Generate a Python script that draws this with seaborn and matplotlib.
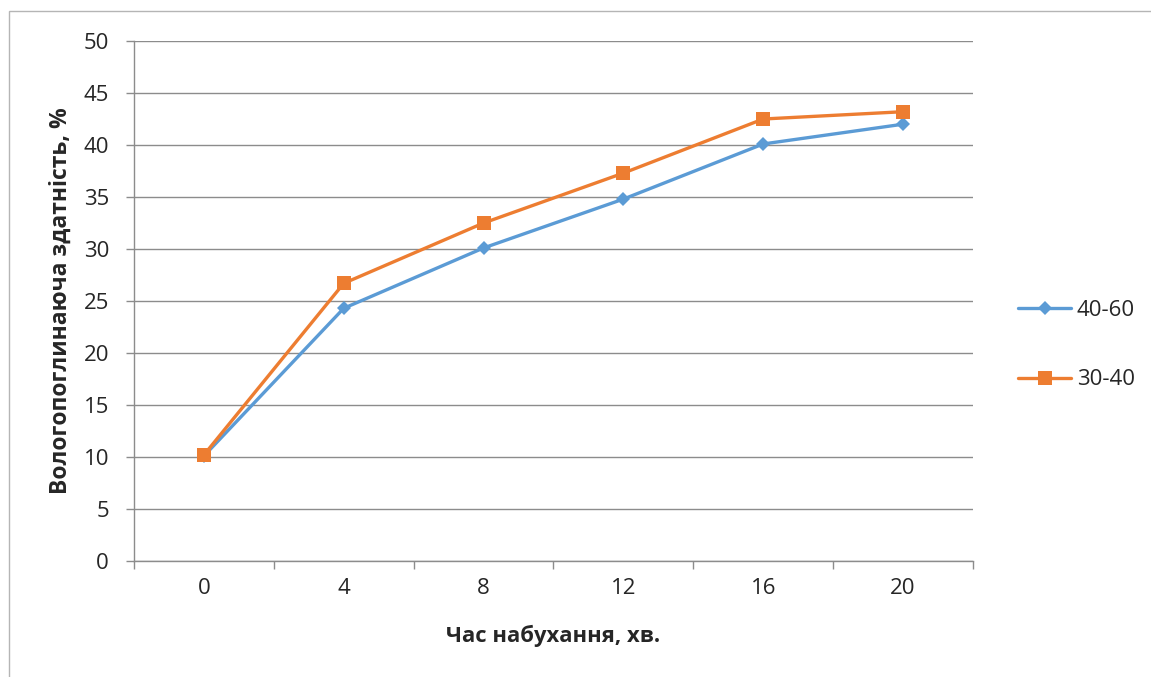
import numpy as np
import pandas as pd
import matplotlib
matplotlib.use("Agg")
import matplotlib.pyplot as plt
from matplotlib.patches import Rectangle
import seaborn as sns

# Swelling time (minutes) and moisture absorption (%) for two fractions
time_labels = ["0", "4", "8", "12", "16", "20"]
series_40_60 = [10.1, 24.3, 30.1, 34.8, 40.1, 42.0]
series_30_40 = [10.2, 26.7, 32.5, 37.3, 42.5, 43.2]
series_names = ["40-60", "30-40"]
y_ticks = [0, 5, 10, 15, 20, 25, 30, 35, 40, 45, 50]

sns.set_theme(style="white")
plt.rcParams["font.family"] = ["Open Sans", "DejaVu Sans"]

pos = np.arange(len(time_labels))
df = pd.DataFrame({
    "pos": np.concatenate([pos, pos]),
    "value": series_40_60 + series_30_40,
    "series": [series_names[0]] * len(pos) + [series_names[1]] * len(pos),
})

blue = "#5B9BD5"
orange = "#ED7D31"
grid_c = "#8C8C8C"

fig = plt.figure(figsize=(11.51, 6.77), dpi=100)
ax = fig.add_axes([134 / 1151, 1 - 561 / 677, (973 - 134) / 1151, (561 - 41) / 677])

# outer chart frame
fig.patches.append(Rectangle((9 / 1151, -0.05), 1.2, 1 - 11 / 677 + 0.05,
                             transform=fig.transFigure, fill=False,
                             edgecolor="#B5B5B5", linewidth=1.0, zorder=0))

sns.lineplot(data=df, x="pos", y="value", hue="series", style="series",
             palette={series_names[0]: blue, series_names[1]: orange},
             markers={series_names[0]: "D", series_names[1]: "s"},
             dashes=False, linewidth=2.4, markersize=9,
             markeredgewidth=0, ax=ax, zorder=3)
for line in ax.get_lines():
    if line.get_marker() == "s":
        line.set_markersize(10)
    elif line.get_marker() == "D":
        line.set_markersize(7.5)

ax.set_xlim(-0.5, len(time_labels) - 0.5)
ax.set_ylim(0, 50)
ax.set_yticks(y_ticks)
ax.set_yticklabels([str(v) for v in y_ticks], fontsize=16)
ax.set_xticks(pos)
ax.set_xticklabels(time_labels, fontsize=16)
ax.tick_params(axis="x", length=0, pad=12)
ax.tick_params(axis="y", length=6, width=1, color=grid_c, direction="out", left=True, pad=12)

# boundary ticks between categories on the x axis
ax.set_xticks(np.arange(-0.5, len(time_labels), 1.0), minor=True)
ax.tick_params(axis="x", which="minor", length=6, width=1, color=grid_c,
               direction="out", bottom=True)

ax.yaxis.grid(True, color=grid_c, linewidth=1.0)
ax.set_axisbelow(True)
for side in ["top", "right"]:
    ax.spines[side].set_visible(False)
ax.spines["left"].set_color(grid_c)
ax.spines["bottom"].set_color(grid_c)
ax.spines["left"].set_linewidth(1.0)
ax.spines["bottom"].set_linewidth(1.0)

ax.set_xlabel("Час набухання, хв.", fontsize=15.8, fontweight="bold", labelpad=19)
ax.set_ylabel("Вологопоглинаюча здатність, %", fontsize=16.5, fontweight="bold", labelpad=8)

handles, labels = ax.get_legend_handles_labels()
ax.legend(handles, labels, loc="center left", bbox_to_anchor=(998 / 1151, 1 - 345 / 677),
          bbox_transform=fig.transFigure, frameon=False, fontsize=16,
          handlelength=2.4, labelspacing=2.2, handletextpad=0.25)

fig.savefig("out.png", dpi=100)
